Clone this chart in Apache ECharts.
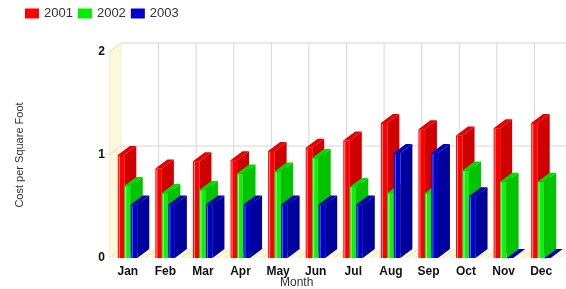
<!DOCTYPE html>
<html>
<head>
<meta charset="utf-8">
<script src="https://cdn.jsdelivr.net/npm/echarts@6/dist/echarts.min.js"></script>
<style>
  html, body { margin: 0; padding: 0; background: #fff; }
  #main { width: 566px; height: 289px; }
</style>
</head>
<body>
<div id="main"></div>
<script>
  // data
  let months = ['Jan','Feb','Mar','Apr','May','Jun','Jul','Aug','Sep','Oct','Nov','Dec'];
  let cost2001 = [1.00, 0.87, 0.94, 0.95, 1.04, 1.07, 1.14, 1.31, 1.25, 1.19, 1.26, 1.31];
  let cost2002 = [0.70, 0.63, 0.66, 0.82, 0.84, 0.97, 0.69, 0.63, 0.63, 0.85, 0.74, 0.74];
  let cost2003 = [0.52, 0.52, 0.52, 0.52, 0.52, 0.52, 0.52, 1.02, 1.02, 0.60, 0, 0];
  let yTicks = [0, 1, 2];

  // fake 3d depth
  const DX = 12, DY = -9, BAR_W = 6.5;
  const FONT = 'Arial, "Liberation Sans", sans-serif';

  function barRenderer(offset, front, side, topc, light) {
    return function (params, api) {
      let cat = api.value(0);
      let top = api.coord([cat, api.value(1)]);
      let base = api.coord([cat, 0]);
      let x0 = top[0] + offset;
      let x1 = x0 + BAR_W;
      let children = [
        {type: 'polygon', shape: {points: [[x1, top[1]], [x1 + DX, top[1] + DY], [x1 + DX, base[1] + DY], [x1, base[1]]]},
          style: {fill: side}},
        {type: 'polygon', shape: {points: [[x0, top[1]], [x0 + DX, top[1] + DY], [x1 + DX, top[1] + DY], [x1, top[1]]]},
          style: {fill: topc}},
        {type: 'rect', shape: {x: x0, y: top[1], width: BAR_W, height: base[1] - top[1]},
          style: {fill: front}},
        {type: 'line', shape: {x1: x0 + 1.5, y1: top[1] + 1, x2: x0 + 1.5, y2: base[1]},
          style: {stroke: light, lineWidth: 1}}
      ];
      return {type: 'group', children: children};
    };
  }

  function frameRenderer(params, api) {
    let band = api.size([1, 0])[0];
    let left = api.coord([0, 0])[0] - band / 2;
    let right = api.coord([months.length - 1, 0])[0] + band / 2;
    let y0 = api.coord([0, yTicks[0]])[1];
    let yTop = api.coord([0, yTicks[yTicks.length - 1]])[1];
    let kids = [];
    // back wall
    kids.push({type: 'rect', shape: {x: left + DX, y: yTop + DY, width: right - left, height: y0 - yTop},
      style: {fill: '#fff'}});
    // left wall
    kids.push({type: 'polygon', shape: {points: [[left, yTop], [left + DX, yTop + DY], [left + DX, y0 + DY], [left, y0]]},
      style: {fill: '#fcf8dc', stroke: '#ede6c0', lineWidth: 0.5}});
    // floor
    kids.push({type: 'polygon', shape: {points: [[left, y0], [left + DX, y0 + DY], [right + DX, y0 + DY], [right, y0]]},
      style: {fill: '#fcf8dc'}});
    for (let x = left; x < right; x += 9) {
      kids.push({type: 'line', shape: {x1: x, y1: y0, x2: x + DX, y2: y0 + DY},
        style: {stroke: '#e8e2c0', lineWidth: 0.8}});
    }
    // back grid
    for (let i = 1; i < yTicks.length; i++) {
      let y = api.coord([0, yTicks[i]])[1] + DY;
      kids.push({type: 'line', shape: {x1: left + DX, y1: y, x2: right + DX, y2: y},
        style: {stroke: '#d6d6d6', lineWidth: 1}});
      kids.push({type: 'line', shape: {x1: left, y1: y - DY, x2: left + DX, y2: y},
        style: {stroke: '#e6dfbd', lineWidth: 1}});
    }
    for (let i = 1; i <= months.length; i++) {
      let x = left + i * band + DX;
      kids.push({type: 'line', shape: {x1: x, y1: yTop + DY, x2: x, y2: y0 + DY},
        style: {stroke: '#d6d6d6', lineWidth: 1}});
    }
    return {type: 'group', children: kids};
  }

  let myChart = echarts.init(document.getElementById('main'));
  myChart.setOption({
    animation: false,
    textStyle: {fontFamily: FONT},
    legend: {
      data: ['2001', '2002', '2003'],
      left: 25, top: 7, padding: 0,
      icon: 'rect',
      itemWidth: 14, itemHeight: 10, itemGap: 5,
      textStyle: {fontSize: 13, color: '#333', fontFamily: FONT}
    },
    grid: {left: 109, right: 6, top: 52, bottom: 31},
    xAxis: {
      type: 'category',
      data: months,
      axisLine: {show: false},
      axisTick: {show: false},
      axisLabel: {fontSize: 12, fontWeight: 'bold', color: '#111', margin: 8, fontFamily: FONT}
    },
    yAxis: {
      type: 'value',
      min: 0, max: 2, interval: 1,
      name: 'Cost per Square Foot',
      nameLocation: 'middle',
      nameGap: 84,
      nameTextStyle: {fontSize: 11, color: '#333', fontFamily: FONT},
      axisLine: {show: false},
      axisTick: {show: false},
      splitLine: {show: false},
      axisLabel: {fontSize: 12, fontWeight: 'bold', color: '#111', margin: 4, fontFamily: FONT}
    },
    graphic: [{
      type: 'text', left: 280, top: 277,
      style: {text: 'Month', fontSize: 12, fill: '#333', fontFamily: FONT}
    }],
    series: [
      {type: 'custom', name: 'frame', z: 1, clip: false, silent: true,
        data: [[0, 0]], renderItem: frameRenderer},
      {type: 'custom', name: '2001', z: 2, clip: false, itemStyle: {color: '#ff0000'},
        data: cost2001.map((v, i) => [i, v]),
        renderItem: barRenderer(-10, '#ff0000', '#d00000', '#e80000', '#ff9090')},
      {type: 'custom', name: '2002', z: 3, clip: false, itemStyle: {color: '#00ee00'},
        data: cost2002.map((v, i) => [i, v]),
        renderItem: barRenderer(-3.5, '#10f010', '#00c400', '#00dc00', '#90ff90')},
      {type: 'custom', name: '2003', z: 4, clip: false, itemStyle: {color: '#0000cc'},
        data: cost2003.map((v, i) => [i, v]),
        renderItem: barRenderer(3, '#0000c8', '#00009c', '#0000b4', '#6060ff')}
    ]
  });
</script>
</body>
</html>
